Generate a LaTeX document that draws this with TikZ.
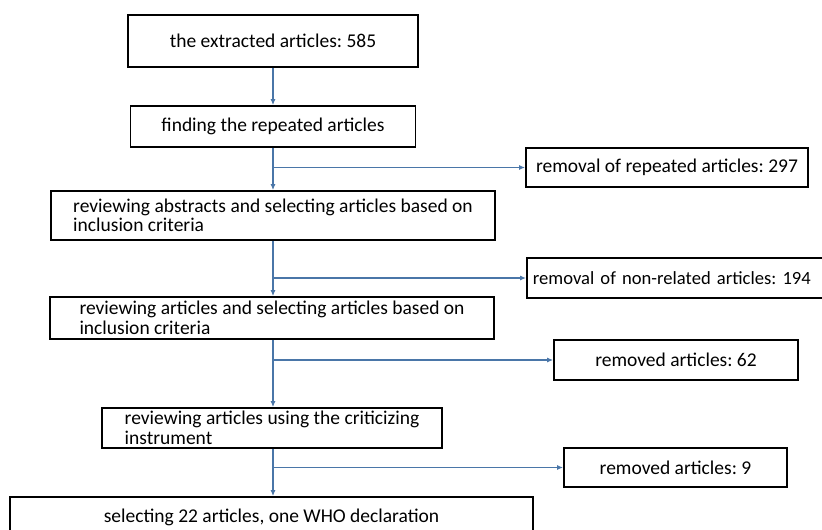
\documentclass[tikz,border=0pt]{standalone}
\usepackage{fontspec}
\setmainfont{Carlito}
\usetikzlibrary{calc, arrows.meta}
\definecolor{flowblue}{RGB}{74,118,168}
\tikzset{>={Latex[length=6pt, width=5pt]}}
\tikzset{
  stage/.style={draw, line width=1.8pt, inner ysep=0pt,
    font=\fontsize{19.5}{19.5}\selectfont\frenchspacing},
  flow/.style={->, flowblue, line width=1.1pt}
}

\begin{document}
\begin{tikzpicture}[x=1pt, y=-1pt]
\useasboundingbox (0,0) rectangle (822,530);
% main column
\node[stage, minimum width=290pt, minimum height=52pt] (extracted) at (273,41) {the extracted articles: 585};
\node[stage, minimum width=285pt, minimum height=41pt] (repeated) at (273,126.5) {finding the repeated articles};
\node[stage, minimum width=444pt, minimum height=49pt, align=left] (abstracts) at (273,215.5) {reviewing abstracts and selecting articles based on\\inclusion criteria};
\node[stage, minimum width=444pt, minimum height=42pt, align=left] (fulltext) at (272,318) {reviewing articles and selecting articles based on\\inclusion criteria};
\node[stage, minimum width=340pt, minimum height=40pt, align=left] (critique) at (272,428) {reviewing articles using the criticizing\\instrument};
\node[stage, minimum width=523pt, minimum height=40pt] (selected) at (271.5,517) {selecting 22 articles, one WHO declaration};
% removed articles
\node[stage, minimum width=282pt, minimum height=39pt] (rem1) at (667,167.5) {removal of repeated articles: 297};
\node[stage, font=\fontsize{18.6}{18.6}\selectfont\frenchspacing, text width=310pt, inner xsep=6pt, minimum height=40pt, align=left, anchor=west] (rem2) at (526,278) {removal of non-related articles: 194};
\node[stage, minimum width=244pt, minimum height=40pt] (rem3) at (676,360) {removed articles: 62};
\node[stage, minimum width=223pt, minimum height=39pt] (rem4) at (675.5,467.5) {removed articles: 9};
% branch points
\coordinate (br1) at (273,167.5);
\coordinate (br2) at (273,278);
\coordinate (br3) at (273,360);
\coordinate (br4) at (273,467.5);
\draw[flow] (extracted.south) -- (repeated.north);
\draw[flow] (repeated.south) -- (repeated.south |- abstracts.north);
\draw[flow] (abstracts.south) -- (abstracts.south |- fulltext.north);
\draw[flow] (br3 |- fulltext.south) -- (br3 |- critique.north);
\draw[flow] (br4 |- critique.south) -- (br4 |- selected.north);
\draw[flow] (br1) -- (rem1.west);
\draw[flow] (br2) -- (rem2.west);
\draw[flow] (br3) -- (rem3.west);
\draw[flow] (br4) -- (rem4.west);
\end{tikzpicture}
\end{document}
